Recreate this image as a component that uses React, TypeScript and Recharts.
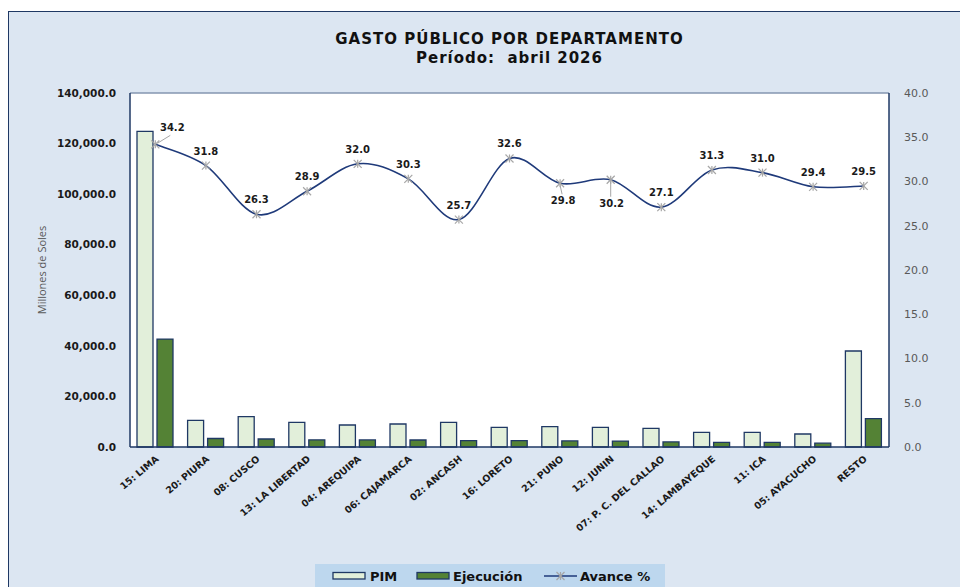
import { ComposedChart, Bar, Line, XAxis, YAxis, CartesianGrid, ReferenceLine, LabelList } from 'recharts';

const categories = [
  '15: LIMA', '20: PIURA', '08: CUSCO', '13: LA LIBERTAD', '04: AREQUIPA', '06: CAJAMARCA', '02: ANCASH',
  '16: LORETO', '21: PUNO', '12: JUNIN', '07: P. C. DEL CALLAO', '14: LAMBAYEQUE', '11: ICA', '05: AYACUCHO', 'RESTO'
];
const pim = [124850, 10560, 12000, 9760, 8700, 9100, 9760, 7780, 8040, 7780, 7380, 5800, 5800, 5140, 37970];
const ejecucion = [42700, 3360, 3160, 2820, 2780, 2760, 2510, 2540, 2400, 2350, 2000, 1815, 1800, 1510, 11200];
const avance = [34.2, 31.8, 26.3, 28.9, 32.0, 30.3, 25.7, 32.6, 29.8, 30.2, 27.1, 31.3, 31.0, 29.4, 29.5];
const leftTicks = [0, 20000, 40000, 60000, 80000, 100000, 120000, 140000];
const rightTicks = [0, 5, 10, 15, 20, 25, 30, 35, 40];

const data = categories.map((name, i) => ({ name, pim: pim[i], ejecucion: ejecucion[i], avance: avance[i] }));

const FONT = '"DejaVu Sans", Verdana, sans-serif';
const NAVY = '#1f3864';
const LINE = '#1f3a7a';
const MARK = '#a6a6a6';

// Excel-like smoothed line (Catmull-Rom through the points)
const excelSmooth = (context: any) => {
  let pts: number[][] = [];
  return {
    areaStart() {},
    areaEnd() {},
    lineStart() { pts = []; },
    point(x: number, y: number) { pts.push([+x, +y]); },
    lineEnd() {
      const n = pts.length;
      if (!n) return;
      context.moveTo(pts[0][0], pts[0][1]);
      for (let i = 0; i < n - 1; i++) {
        const p0 = pts[i - 1] || pts[i];
        const p1 = pts[i];
        const p2 = pts[i + 1];
        const p3 = pts[i + 2] || p2;
        context.bezierCurveTo(
          p1[0] + (p2[0] - p0[0]) / 6, p1[1] + (p2[1] - p0[1]) / 6,
          p2[0] - (p3[0] - p1[0]) / 6, p2[1] - (p3[1] - p1[1]) / 6,
          p2[0], p2[1]
        );
      }
    }
  };
};

const fmtLeft = (v: number) => v.toLocaleString('en-US', { minimumFractionDigits: 1, maximumFractionDigits: 1 });

function StarDot(props: any) {
  const { cx, cy } = props;
  if (cx == null || cy == null) return null;
  const r = 4;
  return (
    <g stroke={MARK} strokeWidth={1.2}>
      <line x1={cx - r} y1={cy - r} x2={cx + r} y2={cy + r} />
      <line x1={cx - r} y1={cy + r} x2={cx + r} y2={cy - r} />
      <line x1={cx} y1={cy - r} x2={cx} y2={cy + r} />
    </g>
  );
}

function AvanceLabel(props: any) {
  const { x, y, value, index } = props;
  const text = Number(value).toFixed(1);
  const style = { fontFamily: FONT, fontSize: 10, fontWeight: 700, fill: '#1a1a1a' };
  if (index === 0) {
    return (
      <g>
        <line x1={x + 2} y1={y - 1} x2={x + 15} y2={y - 9} stroke={MARK} strokeWidth={1} />
        <text x={x + 17} y={y - 13} textAnchor="middle" style={style}>{text}</text>
      </g>
    );
  }
  if (index === 8 || index === 9) {
    const drop = index === 8 ? 21 : 27;
    return (
      <g>
        <line x1={x} y1={y + 2} x2={x + (index === 8 ? 2 : 0)} y2={y + drop - 10} stroke={MARK} strokeWidth={1} />
        <text x={x + (index === 8 ? 3 : 1)} y={y + drop} textAnchor="middle" style={style}>{text}</text>
      </g>
    );
  }
  return <text x={x} y={y - 11} textAnchor="middle" style={style}>{text}</text>;
}

function CategoryTick(props: any) {
  const { x, y, payload } = props;
  return (
    <g transform={`translate(${x + 4},${y + 13})`}>
      <text x={0} y={0} textAnchor="end" transform="rotate(-40)"
        style={{ fontFamily: FONT, fontSize: 9.5, fontWeight: 700, fill: '#1a1a1a' }}>
        {payload.value}
      </text>
    </g>
  );
}

function YLabel(props: any) {
  const { viewBox } = props;
  const cx = viewBox.x - 4;
  const cy = viewBox.y + viewBox.height / 2;
  return (
    <text x={cx} y={cy} textAnchor="middle" transform={`rotate(-90, ${cx}, ${cy})`}
      style={{ fontFamily: '"Liberation Sans Narrow", "Open Sans", sans-serif', fontSize: 11, fill: '#595959' }}>
      Millones de Soles
    </text>
  );
}

export default function App() {
  return (
    <div style={{ position: 'relative', width: 960, height: 587, overflow: 'hidden' }}>
      <style>{'body{margin:0;overflow:hidden}'}</style>
      <div style={{
        position: 'absolute', left: 8, top: 11, width: 980, height: 600,
        background: '#dce6f2', border: `1.5px solid ${NAVY}`
      }} />
      <div style={{
        position: 'absolute', left: 130, width: 759, top: 30, textAlign: 'center',
        fontFamily: FONT, fontWeight: 700, fontSize: 15, lineHeight: '19px', letterSpacing: 1, color: '#111'
      }}>
        <div>GASTO PÚBLICO POR DEPARTAMENTO</div>
        <div>Período:&nbsp; abril 2026</div>
      </div>
      <div style={{ position: 'absolute', left: 0, top: 0 }}>
        <ComposedChart width={960} height={587} data={data}
          margin={{ top: 93, right: 21, bottom: 50, left: 50 }}
          barCategoryGap={7} barGap={4}>
          <CartesianGrid yAxisId="left" fill="#ffffff" horizontal={false} vertical={false} />
          <XAxis dataKey="name" height={90} interval={0} tickLine={false} tickSize={0} tickMargin={0}
            axisLine={{ stroke: NAVY, strokeWidth: 1.5 }} tick={<CategoryTick />} />
          <YAxis yAxisId="left" width={80} domain={[0, 140000]} ticks={leftTicks} tickFormatter={fmtLeft}
            tickLine={false} tickSize={8} tickMargin={6} axisLine={{ stroke: NAVY, strokeWidth: 1.5 }}
            tick={{ fontFamily: FONT, fontSize: 10.5, fontWeight: 700, fill: '#1a1a1a' }}
            label={<YLabel />} />
          <YAxis yAxisId="right" orientation="right" width={50} domain={[0, 40]} ticks={rightTicks}
            tickFormatter={(v: number) => v.toFixed(1)}
            tickLine={false} tickSize={8} tickMargin={7} axisLine={{ stroke: NAVY, strokeWidth: 1.5 }}
            tick={{ fontFamily: FONT, fontSize: 11, fill: '#595959', textAnchor: 'start' }} />
          <ReferenceLine yAxisId="left" y={140000} stroke="#8496b0" strokeWidth={1.5} />
          <Bar yAxisId="left" dataKey="pim" name="PIM" fill="#e2efda" stroke={NAVY} strokeWidth={1.3}
            isAnimationActive={false} />
          <Bar yAxisId="left" dataKey="ejecucion" name="Ejecución" fill="#548235" stroke={NAVY} strokeWidth={1.3}
            isAnimationActive={false} />
          <Line yAxisId="right" dataKey="avance" name="Avance %" type={excelSmooth as any} stroke={LINE}
            strokeWidth={1.6} dot={<StarDot />} activeDot={false} isAnimationActive={false}>
            <LabelList dataKey="avance" content={<AvanceLabel />} />
          </Line>
        </ComposedChart>
      </div>
      <div style={{
        position: 'absolute', left: 315, top: 564, width: 350, height: 30, background: '#bdd7ee',
        fontFamily: FONT, fontWeight: 700, fontSize: 13, color: '#111'
      }}>
        <svg width={350} height={24} style={{ position: 'absolute', left: 0, top: 0 }}>
          <rect x={18} y={8.5} width={32} height={6.5} fill="#e2efda" stroke={NAVY} strokeWidth={1.3} />
          <rect x={102} y={8.5} width={32} height={6.5} fill="#548235" stroke={NAVY} strokeWidth={1.3} />
          <line x1={229} y1={12} x2={262} y2={12} stroke={LINE} strokeWidth={1.6} />
          <g stroke={MARK} strokeWidth={1.2}>
            <line x1={241.5} y1={8} x2={249.5} y2={16} />
            <line x1={241.5} y1={16} x2={249.5} y2={8} />
            <line x1={245.5} y1={8} x2={245.5} y2={16} />
          </g>
          <text x={55} y={16.5} style={{ fontFamily: FONT, fontWeight: 700, fontSize: 13, fill: '#111' }}>PIM</text>
          <text x={138} y={16.5} style={{ fontFamily: FONT, fontWeight: 700, fontSize: 13, fill: '#111' }}>Ejecución</text>
          <text x={265} y={16.5} style={{ fontFamily: FONT, fontWeight: 700, fontSize: 13, fill: '#111' }}>Avance %</text>
        </svg>
      </div>
    </div>
  );
}
